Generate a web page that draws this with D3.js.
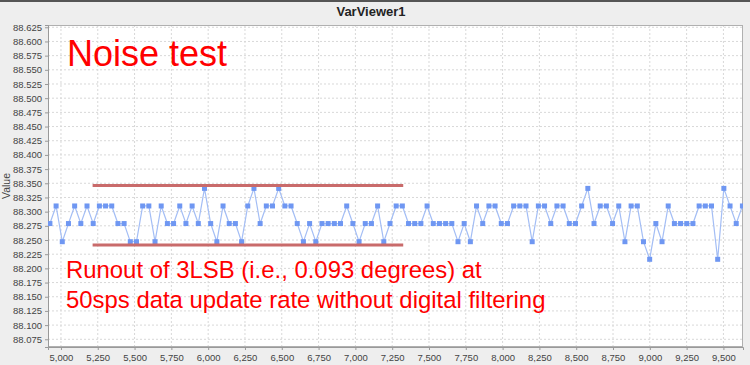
<!DOCTYPE html>
<html>
<head>
<meta charset="utf-8">
<script src="https://cdn.jsdelivr.net/npm/d3@7"></script>
<style>
  body { margin: 0; background: #eeeeee; }
  svg { display: block; font-family: "Liberation Sans", Arial, sans-serif; }
</style>
</head>
<body>
<div id="canvas"></div>
<script>
"use strict"

/* canvas size and plot box */
let svgWidth = 750;
let svgHeight = 365;
let plotLeft = 48;
let plotRight = 743;
let plotTop = 25;
let plotBottom = 347;

/* samples: first sample number and spacing between samples */
let firstSample = 4925;
let sampleStep = 42;

/* values, one per sample */
let values = [
    88.279, 88.310, 88.247, 88.279, 88.310, 88.279, 88.310, 88.279, 88.310, 88.310,
    88.310, 88.279, 88.279, 88.247, 88.247, 88.310, 88.310, 88.247, 88.310, 88.279,
    88.279, 88.310, 88.279, 88.310, 88.279, 88.341, 88.279, 88.247, 88.310, 88.279,
    88.279, 88.247, 88.310, 88.341, 88.279, 88.310, 88.310, 88.341,
    88.310, 88.310, 88.279, 88.247, 88.279, 88.247, 88.279, 88.279, 88.279, 88.279,
    88.310, 88.279, 88.247, 88.279, 88.279, 88.310, 88.247, 88.279, 88.310, 88.310,
    88.279, 88.279, 88.279, 88.310, 88.279, 88.279, 88.279, 88.279, 88.247, 88.279,
    88.247, 88.310, 88.279, 88.310, 88.310, 88.279, 88.279,
    88.310, 88.310, 88.310, 88.247, 88.310, 88.310, 88.279, 88.310, 88.310, 88.279,
    88.279, 88.310, 88.341, 88.279, 88.310, 88.310, 88.279, 88.310, 88.247, 88.310,
    88.310, 88.247, 88.216, 88.279, 88.247, 88.310, 88.279, 88.279, 88.279, 88.279,
    88.310, 88.310, 88.310, 88.216, 88.341, 88.310, 88.279, 88.310, 88.279
];

/* axis ticks */
let xTicks = [5000, 5250, 5500, 5750, 6000, 6250, 6500, 6750, 7000, 7250, 7500, 7750, 8000, 8250, 8500, 8750, 9000, 9250, 9500];
let yTicks = [88.075, 88.100, 88.125, 88.150, 88.175, 88.200, 88.225, 88.250, 88.275, 88.300, 88.325, 88.350,
    88.375, 88.400, 88.425, 88.450, 88.475, 88.500, 88.525, 88.550, 88.575, 88.600, 88.625];

/* the two runout marker lines drawn over the plot (sample range, value) */
let bandStart = 5215;
let bandEnd = 7325;
let bandLevels = [88.346, 88.241];

let titleText = "VarViewer1";
let yLabelText = "Value";
let headline = "Noise test";
let noteLines = ["Runout of 3LSB (i.e., 0.093 degrees) at", "50sps data update rate without digital filtering"];

let points = values.map(function (v, i) {
    return { x: firstSample + i * sampleStep, y: v };
});

let svg = d3.select("#canvas")
    .append("svg")
    .attr("width", svgWidth)
    .attr("height", svgHeight);

/* window background + dark top border */
svg.append("rect")
    .attr("width", svgWidth)
    .attr("height", svgHeight)
    .attr("fill", "#eeeeee");
svg.append("rect")
    .attr("width", svgWidth)
    .attr("height", 2)
    .attr("fill", "#555555");

let xScale = d3.scaleLinear()
    .domain([4912, 9633])
    .range([plotLeft, plotRight]);

let yScale = d3.scaleLinear()
    .domain([88.0614, 88.629])
    .range([plotBottom, plotTop]);

/* white plot area */
svg.append("rect")
    .attr("x", plotLeft)
    .attr("y", plotTop)
    .attr("width", plotRight - plotLeft)
    .attr("height", plotBottom - plotTop)
    .attr("fill", "#ffffff");

/* dotted grid */
svg.append("g")
    .selectAll("line")
    .data(xTicks)
    .join("line")
    .attr("x1", d => xScale(d))
    .attr("x2", d => xScale(d))
    .attr("y1", plotTop)
    .attr("y2", plotBottom)
    .attr("stroke", "#d8d8d8")
    .attr("stroke-dasharray", "2,2");

svg.append("g")
    .selectAll("line")
    .data(yTicks)
    .join("line")
    .attr("x1", plotLeft)
    .attr("x2", plotRight)
    .attr("y1", d => yScale(d))
    .attr("y2", d => yScale(d))
    .attr("stroke", "#d8d8d8")
    .attr("stroke-dasharray", "2,2");

/* plot border */
svg.append("rect")
    .attr("x", plotLeft + 0.5)
    .attr("y", plotTop + 0.5)
    .attr("width", plotRight - plotLeft - 1)
    .attr("height", plotBottom - plotTop - 1)
    .attr("fill", "none")
    .attr("stroke", "#b0b0b0");

/* axes */
let yAxis = svg.append("g")
    .attr("transform", "translate(" + plotLeft + ",0)")
    .call(d3.axisLeft(yScale).tickValues(yTicks).tickFormat(d3.format(".3f")).tickSize(3).tickPadding(3));

let xAxis = svg.append("g")
    .attr("transform", "translate(0," + plotBottom + ")")
    .call(d3.axisBottom(xScale).tickValues(xTicks).tickFormat(d3.format(",")).tickSize(3).tickPadding(4));

[yAxis, xAxis].forEach(function (ax) {
    ax.select(".domain").attr("stroke", "#999999");
    ax.selectAll(".tick line").attr("stroke", "#999999");
    ax.selectAll(".tick text")
        .attr("fill", "#444444")
        .style("font-size", "9.5px")
        .style("font-family", "\"Liberation Sans\", Arial, sans-serif");
});

/* clip so the series stays inside the plot */
svg.append("clipPath")
    .attr("id", "plotClip")
    .append("rect")
    .attr("x", plotLeft)
    .attr("y", plotTop)
    .attr("width", plotRight - plotLeft)
    .attr("height", plotBottom - plotTop);

let series = svg.append("g").attr("clip-path", "url(#plotClip)");

let line = d3.line()
    .x(d => xScale(d.x))
    .y(d => yScale(d.y));

series.append("path")
    .datum(points)
    .attr("d", line)
    .attr("fill", "none")
    .attr("stroke", "#a4bef5")
    .attr("stroke-width", 1.2);

series.selectAll("rect")
    .data(points)
    .join("rect")
    .attr("x", d => xScale(d.x) - 2.5)
    .attr("y", d => yScale(d.y) - 2.5)
    .attr("width", 5)
    .attr("height", 5)
    .attr("fill", "#6f97f2");

/* runout markers */
svg.append("g")
    .selectAll("line")
    .data(bandLevels)
    .join("line")
    .attr("x1", xScale(bandStart))
    .attr("x2", xScale(bandEnd))
    .attr("y1", d => yScale(d))
    .attr("y2", d => yScale(d))
    .attr("stroke", "#c96b6b")
    .attr("stroke-width", 3);

/* title and axis label */
svg.append("text")
    .attr("x", 371)
    .attr("y", 16)
    .attr("text-anchor", "middle")
    .style("font-size", "13px")
    .style("font-weight", "bold")
    .attr("fill", "#222222")
    .text(titleText);

svg.append("text")
    .attr("transform", "translate(10," + ((plotTop + plotBottom) / 2) + ") rotate(-90)")
    .attr("text-anchor", "middle")
    .style("font-size", "10.5px")
    .attr("fill", "#444444")
    .text(yLabelText);

/* red annotations */
svg.append("text")
    .attr("x", 67)
    .attr("y", 66)
    .attr("fill", "#ff0000")
    .style("font-size", "36px")
    .text(headline);

svg.append("g")
    .selectAll("text")
    .data(noteLines)
    .join("text")
    .attr("x", 66)
    .attr("y", (d, i) => 278 + i * 30)
    .attr("fill", "#ff0000")
    .style("font-size", "23.9px")
    .text(d => d);
</script>
</body>
</html>
